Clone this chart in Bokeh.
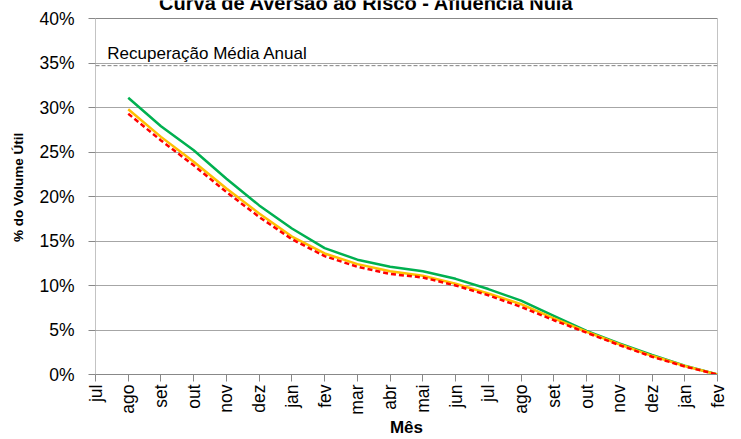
import math
from bokeh.plotting import figure
from bokeh.models import Range1d, FixedTicker, Label, Span
from bokeh.embed import file_html
from bokeh.resources import INLINE

# ---- data ----
meses = ["jul", "ago", "set", "out", "nov", "dez", "jan", "fev", "mar", "abr",
         "mai", "jun", "jul", "ago", "set", "out", "nov", "dez", "jan", "fev"]
serie_verde = [31.1, 27.9, 25.2, 22.0, 19.0, 16.4, 14.2, 12.9, 12.1, 11.6,
               10.75, 9.6, 8.3, 6.6, 4.9, 3.5, 2.2, 1.0, 0.0]
serie_amarela = [29.8, 26.7, 23.9, 20.9, 18.1, 15.5, 13.6, 12.4, 11.6, 11.1,
                 10.2, 9.1, 7.9, 6.3, 4.8, 3.4, 2.1, 0.95, 0.0]
serie_vermelha = [29.3, 26.3, 23.5, 20.5, 17.7, 15.2, 13.3, 12.1, 11.3, 10.9,
                  10.0, 8.9, 7.6, 6.1, 4.7, 3.3, 2.0, 0.9, 0.0]
recuperacao_media_anual = 34.7
y_ticks = [0, 5, 10, 15, 20, 25, 30, 35, 40]
titulo = "Curva de Aversão ao Risco - Afluência Nula"
rotulo_x = "Mês"
rotulo_y = "% do Volume Útil"
rotulo_linha = "Recuperação Média Anual"

x_all = list(range(len(meses)))
x_series = x_all[1:]
x_max = len(meses) - 1
y_max = y_ticks[-1]

FONT = "Liberation Sans"
GRAY = "#888888"

# The frame is extended up to the top of the canvas so that the (cut) title
# can be drawn; the visible plot box ends at y_max.
frame_bottom_px = 374
plot_top_px = 18
y_end = y_max * frame_bottom_px / (frame_bottom_px - plot_top_px)

p = figure(width=741, height=439, output_backend="svg", toolbar_location=None,
           title=None,
           x_range=Range1d(0, x_max), y_range=Range1d(0, y_end),
           min_border_left=95, min_border_right=24, min_border_top=0,
           min_border_bottom=65)
p.background_fill_color = "white"
p.border_fill_color = "white"
p.outline_line_color = None

# axes
for ax in (p.xaxis[0], p.yaxis[0]):
    ax.axis_line_color = GRAY
    ax.major_tick_line_color = GRAY
    ax.minor_tick_line_color = None
    ax.major_tick_out = 7
    ax.major_tick_in = 0
    ax.major_label_text_font = FONT
    ax.major_label_text_font_size = "17.5px"
    ax.major_label_text_color = "black"
p.yaxis.axis_line_color = None

p.xaxis.ticker = FixedTicker(ticks=x_all)
p.xaxis.major_label_overrides = {i: m for i, m in enumerate(meses)}
p.xaxis.major_label_orientation = math.pi / 2
p.xaxis.major_label_standoff = 3
p.xaxis.axis_label = rotulo_x
p.xaxis.axis_label_text_font = FONT
p.xaxis.axis_label_text_font_style = "bold"
p.xaxis.axis_label_text_font_size = "17px"
p.xaxis.axis_label_text_color = "black"
p.xaxis.axis_label_standoff = 0

p.yaxis.ticker = FixedTicker(ticks=y_ticks)
p.yaxis.major_label_overrides = {v: f"{v}%" for v in y_ticks}
p.yaxis.major_label_standoff = 14
p.yaxis.axis_label = rotulo_y
p.yaxis.axis_label_text_font = FONT
p.yaxis.axis_label_text_font_style = "bold"
p.yaxis.axis_label_text_font_size = "13.5px"
p.yaxis.axis_label_text_color = "black"
p.yaxis.axis_label_standoff = 10

p.xgrid.visible = False
p.ygrid.ticker = FixedTicker(ticks=y_ticks)
p.ygrid.grid_line_color = "#a6a6a6"
p.ygrid.grid_line_width = 1

# plot box (left, right, top)
p.segment(x0=[0, x_max, 0], y0=[0, 0, y_max], x1=[0, x_max, x_max],
          y1=[y_max, y_max, y_max], line_color=GRAY, line_width=1)

# reference line
p.add_layout(Span(location=recuperacao_media_anual, dimension="width",
                  line_color="#808080", line_dash="4 2", line_width=1))
p.add_layout(Label(x=0.36, y=36.05, text=rotulo_linha, text_font=FONT,
                   text_font_size="17px", text_color="black",
                   text_align="left", text_baseline="alphabetic"))

# series
p.line(x_series, serie_verde, line_color="#00B050", line_width=2.5)
p.line(x_series, serie_amarela, line_color="#FFC000", line_width=2.5)
p.line(x_series, serie_vermelha, line_color="#FF0000", line_width=2.5,
       line_dash="5 3")

# title (partially cut at top, as in the reference)
p.add_layout(Label(x=8.28, y=41.75, text=titulo, text_font=FONT,
                   text_font_size="20px", text_font_style="bold",
                   text_color="black", text_align="center",
                   text_baseline="alphabetic"))

open("out.html", "w").write(file_html(p, INLINE))
